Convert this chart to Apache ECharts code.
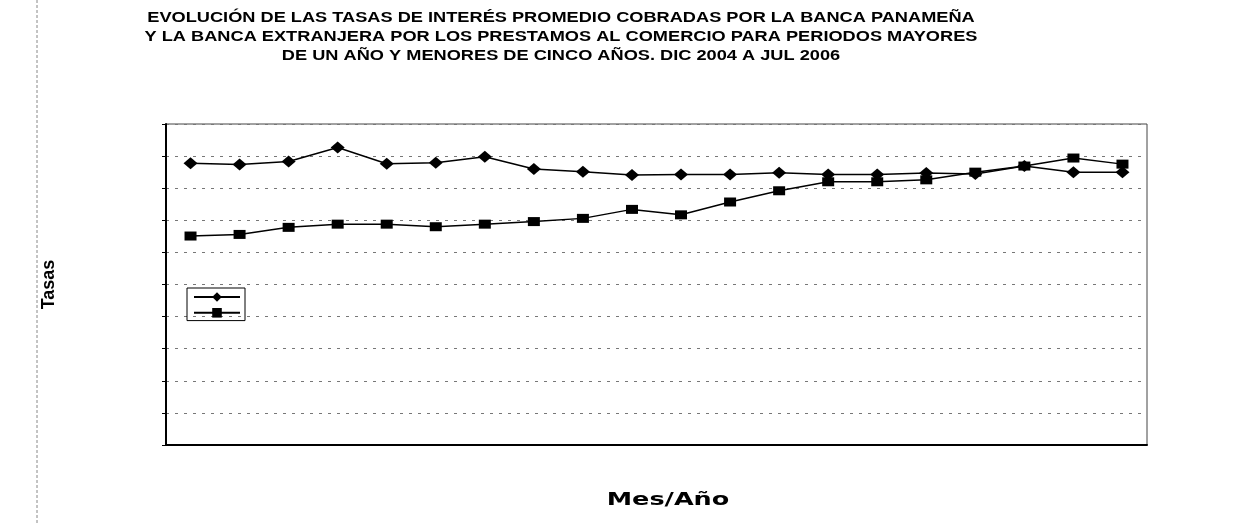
<!DOCTYPE html>
<html>
<head>
<meta charset="utf-8">
<script src="https://cdn.jsdelivr.net/npm/echarts@6/dist/echarts.min.js"></script>
<style>
  html, body { margin: 0; padding: 0; background: #fff; }
  #chart { width: 1233px; height: 524px; }
</style>
</head>
<body>
<div id="chart"></div>
<script>
// Dic 2004 .. Jul 2006
const months = ["Dic-04", "Ene-05", "Feb-05", "Mar-05", "Abr-05", "May-05", "Jun-05", "Jul-05", "Ago-05", "Sep-05",
  "Oct-05", "Nov-05", "Dic-05", "Ene-06", "Feb-06", "Mar-06", "Abr-06", "May-06", "Jun-06", "Jul-06"];
const bancaPanamena = [8.78, 8.74, 8.83, 9.27, 8.76, 8.79, 8.98, 8.60, 8.51, 8.41,
  8.43, 8.43, 8.48, 8.43, 8.43, 8.47, 8.44, 8.69, 8.50, 8.50];
const bancaExtranjera = [6.51, 6.56, 6.78, 6.88, 6.88, 6.80, 6.88, 6.96, 7.06, 7.34,
  7.17, 7.57, 7.92, 8.20, 8.20, 8.26, 8.50, 8.69, 8.94, 8.75];
const seriesNames = ["Banca Panameña", "Banca Extranjera"];
const titleLines = [
  "EVOLUCIÓN DE LAS TASAS DE INTERÉS PROMEDIO COBRADAS POR LA BANCA PANAMEÑA",
  "Y LA BANCA EXTRANJERA POR LOS PRESTAMOS AL COMERCIO PARA PERIODOS MAYORES",
  "DE UN AÑO Y MENORES DE CINCO AÑOS. DIC 2004 A JUL 2006",
];
const xName = "Mes/Año";
const yName = "Tasas";

const chart = echarts.init(document.getElementById("chart"), null, { renderer: "canvas" });
const ink = "#000";

chart.setOption({
  animation: false,
  backgroundColor: "#fff",
  textStyle: { fontFamily: "Liberation Sans" },
  graphic: [
    {
      // scanned title is stretched sideways
      type: "text", x: 561, y: 9, scaleX: 1.3, originX: 0,
      style: {
        text: titleLines.join("\n"), fill: ink, align: "center",
        font: "bold 14px 'Liberation Sans'", lineHeight: 19,
      },
    },
    {
      type: "text", x: 668, y: 501, scaleX: 1.5, originX: 0,
      style: {
        text: xName, fill: ink, align: "center", verticalAlign: "middle",
        font: "bold 17px 'DejaVu Sans'",
      },
    },
    {
      type: "line", shape: { x1: 37, y1: 0, x2: 37, y2: 524 },
      style: { stroke: "#888", lineWidth: 1, lineDash: [3, 2] },
    },
  ],
  legend: {
    orient: "vertical", left: 187, top: 288,
    itemWidth: 46, itemHeight: 12, itemGap: 5,
    padding: [3, 4, 3, 6], borderColor: ink, borderWidth: 1,
    formatter: () => "",
    data: seriesNames,
  },
  grid: { left: 166, right: 86, top: 124, bottom: 79, show: true, borderColor: "#444", borderWidth: 1 },
  xAxis: {
    type: "category", data: months, boundaryGap: true,
    axisLine: { lineStyle: { color: ink, width: 2 } },
    axisTick: { show: false },
    axisLabel: { show: false },
  },
  yAxis: {
    type: "value", min: 0, max: 10, interval: 1,
    name: yName, nameLocation: "middle", nameGap: 108,
    nameTextStyle: { color: ink, fontWeight: "bold", fontSize: 18 },
    axisLine: { show: true, lineStyle: { color: ink, width: 2 } },
    axisTick: { show: true, length: 4, lineStyle: { color: ink } },
    axisLabel: { show: false },
    splitLine: { lineStyle: { color: "#777", type: [3, 6], width: 1 } },
  },
  series: [
    {
      name: seriesNames[0], type: "line", data: bancaPanamena,
      symbol: "diamond", symbolSize: [14, 12],
      itemStyle: { color: ink }, lineStyle: { color: ink, width: 1.5 },
    },
    {
      name: seriesNames[1], type: "line", data: bancaExtranjera,
      symbol: "rect", symbolSize: [12, 9],
      itemStyle: { color: ink }, lineStyle: { color: ink, width: 1.5 },
    },
  ],
});
</script>
</body>
</html>
